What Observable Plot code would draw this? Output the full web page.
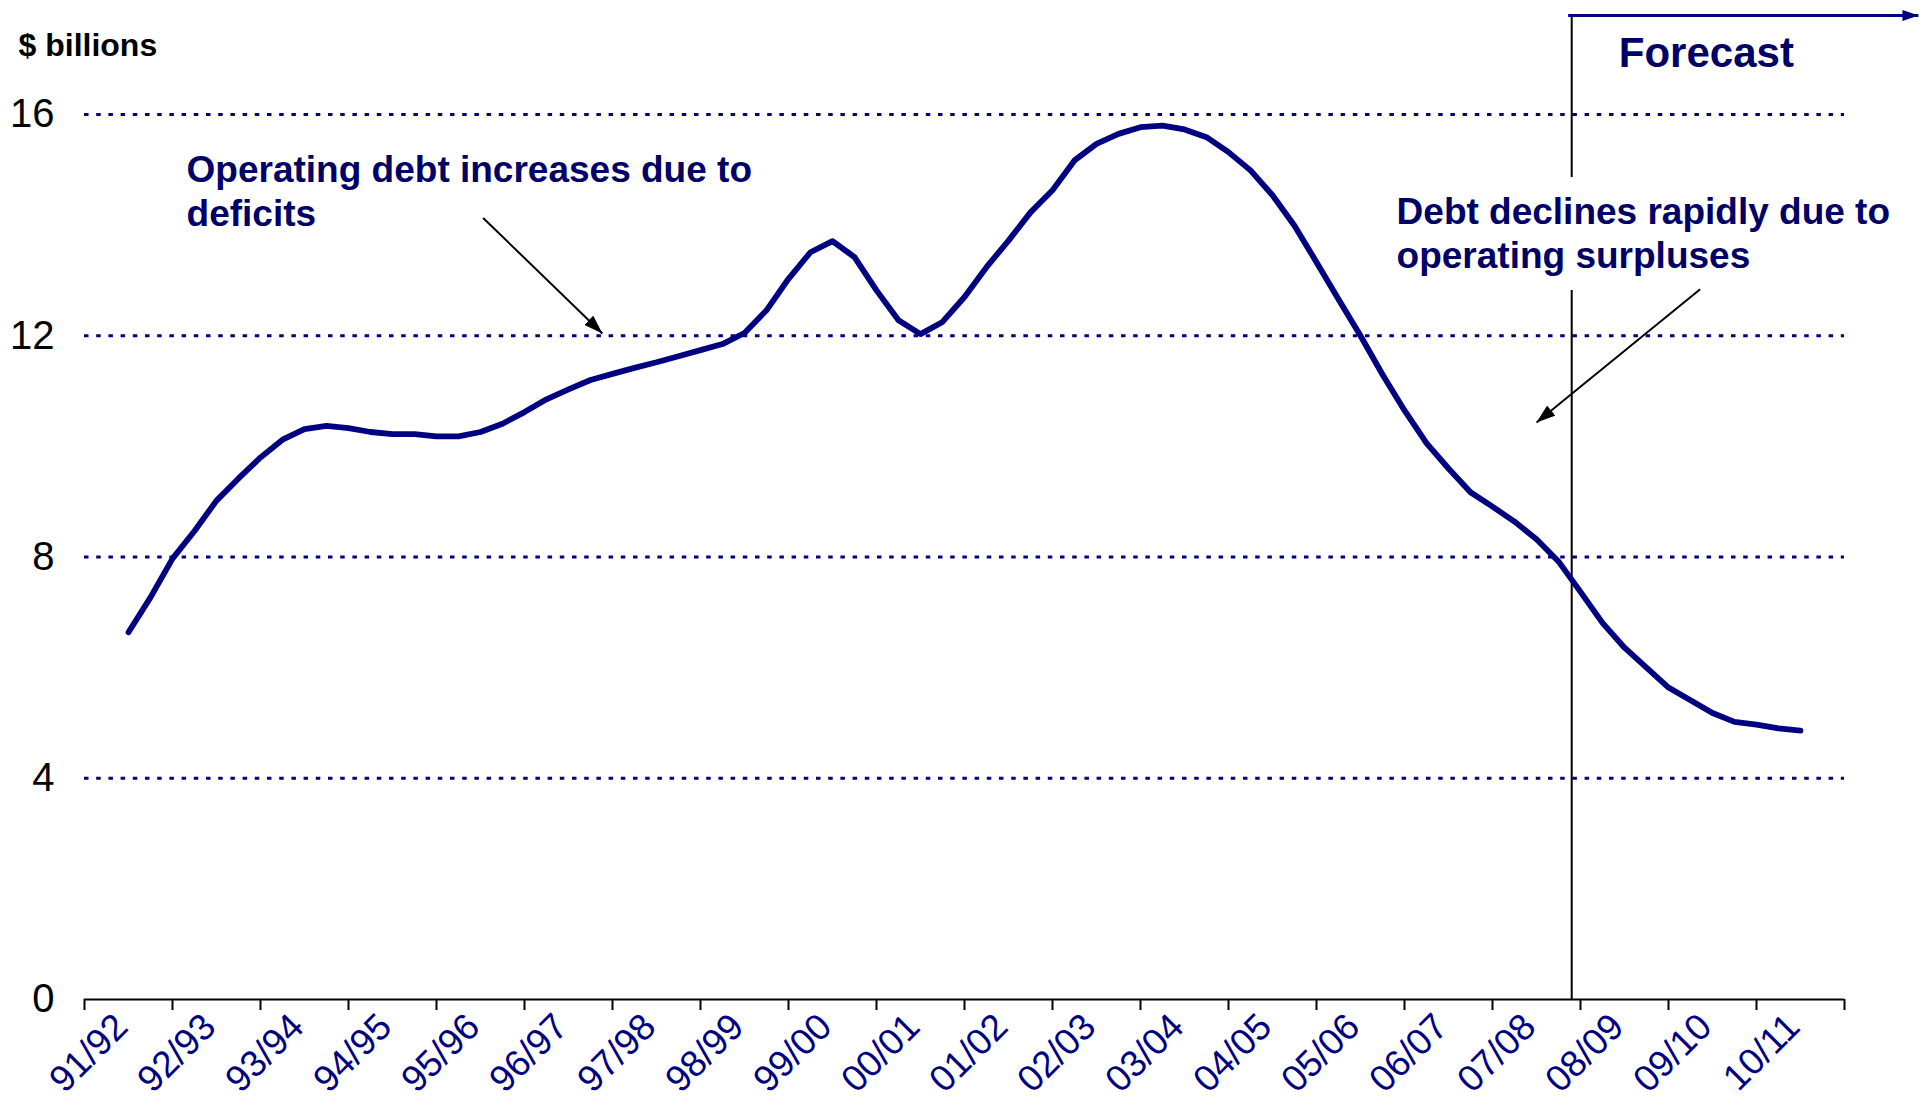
<!DOCTYPE html>
<html>
<head>
<meta charset="utf-8">
<script src="https://cdn.jsdelivr.net/npm/d3@7"></script>
<script src="https://cdn.jsdelivr.net/npm/@observablehq/plot@0.6"></script>
<style>
  html, body { margin: 0; padding: 0; background: #ffffff; }
  #chart { width: 1927px; height: 1108px; }
</style>
</head>
<body>
<div id="chart"></div>
<script>
// Fiscal-year categories (one band each on the x axis)
const years = ["91/92","92/93","93/94","94/95","95/96","96/97","97/98","98/99","99/00","00/01",
               "01/02","02/03","03/04","04/05","05/06","06/07","07/08","08/09","09/10","10/11"];

// Operating debt, $ billions, quarterly points from the centre of 91/92 to the centre of 10/11
const debt = [
  6.64, 7.27, 7.97, 8.47, 9.02, 9.42, 9.80, 10.12, 10.31, 10.37,
  10.33, 10.26, 10.22, 10.22, 10.18, 10.18, 10.26, 10.41, 10.62, 10.85,
  11.03, 11.20, 11.31, 11.42, 11.52, 11.63, 11.74, 11.85, 12.05, 12.46,
  13.03, 13.51, 13.71, 13.42, 12.82, 12.28, 12.03, 12.25, 12.70, 13.24,
  13.72, 14.23, 14.63, 15.17, 15.47, 15.65, 15.77, 15.80, 15.73, 15.59,
  15.32, 14.99, 14.54, 13.99, 13.33, 12.66, 12.00, 11.30, 10.65, 10.06,
  9.60, 9.17, 8.91, 8.64, 8.32, 7.92, 7.37, 6.81, 6.36, 6.00,
  5.64, 5.41, 5.18, 5.02, 4.97, 4.90, 4.86
];

// Y tick values and gridlines
const yTicks = [0, 4, 8, 12, 16];
const gridValues = [4, 8, 12, 16];

// Annotations (in chart units: x = category index, y = $ billions)
const noteLeft = {x: 1.16, y: 13.98, text: "Operating debt increases due to\ndeficits"};
const noteRight = {x: 14.91, y: 13.23, text: "Debt declines rapidly due to\noperating surpluses"};
const forecastLabel = {x: 18.43, y: 16.85, text: "Forecast"};
const arrowsBlack = [
  {x1: 4.53, y1: 14.13, x2: 5.885, y2: 12.04},
  {x1: 18.36, y1: 12.84, x2: 16.5, y2: 10.43}
];
const forecastX = 16.9;
const forecastSegments = [{y1: 0, y2: 12.82}, {y1: 14.86, y2: 17.79}];
const forecastArrow = [{x1: 16.86, y1: 17.79, x2: 20.84, y2: 17.79}];

const debtRows = debt.map((v, i) => ({q: 0.5 + i / 4, v}));
const boundaries = d3.range(years.length + 1);
const centres = years.map((_, i) => i + 0.5);

function filledHead(len, wid) {
  return (color, context) => {
    const ns = "http://www.w3.org/2000/svg";
    const m = context.document.createElementNS(ns, "marker");
    m.setAttribute("viewBox", `${-len} ${-wid / 2} ${len} ${wid}`);
    m.setAttribute("refX", 0);
    m.setAttribute("refY", 0);
    m.setAttribute("markerWidth", len);
    m.setAttribute("markerHeight", wid);
    m.setAttribute("markerUnits", "userSpaceOnUse");
    m.setAttribute("orient", "auto");
    const p = context.document.createElementNS(ns, "path");
    p.setAttribute("d", `M${-len},${-wid / 2}L0,0L${-len},${wid / 2}Z`);
    p.setAttribute("fill", color);
    p.setAttribute("stroke", "none");
    m.appendChild(p);
    return m;
  };
}

const navy = "#000080";
const textNavy = "#000066";
const font = "'Liberation Sans', Arial, Helvetica, sans-serif";

const chart = Plot.plot({
  width: 1927,
  height: 1108,
  marginLeft: 84,
  marginRight: 83,
  marginTop: 114,
  marginBottom: 109,
  style: {fontFamily: font, background: "#ffffff", overflow: "visible"},
  x: {type: "linear", domain: [0, years.length]},
  y: {domain: [0, 16]},
  marks: [
    Plot.ruleY(gridValues, {stroke: navy, strokeWidth: 3, strokeDasharray: "4.5,7.7"}),
    Plot.axisY({ticks: yTicks, tickSize: 0, tickPadding: 30, fontSize: 40, color: "#000000", label: null}),
    Plot.axisX({ticks: boundaries, tickSize: 11, tickFormat: () => "", strokeWidth: 2, color: "#000000", label: null}),
    Plot.axisX({ticks: centres, tickSize: 0, tickPadding: 21, dx: -7, tickRotate: -45, fontSize: 37,
                color: navy, tickFormat: (d) => years[Math.floor(d)], label: null}),
    Plot.ruleY([0], {stroke: "#000000", strokeWidth: 2}),
    Plot.ruleX(forecastSegments, {x: forecastX, y1: "y1", y2: "y2", stroke: "#000000", strokeWidth: 2}),
    Plot.link(forecastArrow, {x1: "x1", y1: "y1", x2: "x2", y2: "y2", stroke: navy, strokeWidth: 3,
              markerEnd: filledHead(16, 11)}),
    Plot.link(arrowsBlack, {x1: "x1", y1: "y1", x2: "x2", y2: "y2", stroke: "#000000", strokeWidth: 2,
              markerEnd: filledHead(19, 13)}),
    Plot.line(debtRows, {x: "q", y: "v", stroke: navy, strokeWidth: 5.8, strokeLinejoin: "round", strokeLinecap: "round"}),
    Plot.text([noteLeft, noteRight], {x: "x", y: "y", text: "text", textAnchor: "start", lineAnchor: "bottom",
              lineHeight: 44 / 37, fontSize: 37, fontWeight: "bold", fill: textNavy}),
    Plot.text([forecastLabel], {x: "x", y: "y", text: "text", textAnchor: "middle", lineAnchor: "bottom",
              fontSize: 42, fontWeight: "bold", fill: textNavy}),
    Plot.text(["$ billions"], {frameAnchor: "top-left", dx: -66, dy: -59, textAnchor: "start", lineAnchor: "bottom",
              fontSize: 32, fontWeight: "bold", fill: "#000000"})
  ]
});

document.getElementById("chart").appendChild(chart);
</script>
</body>
</html>
